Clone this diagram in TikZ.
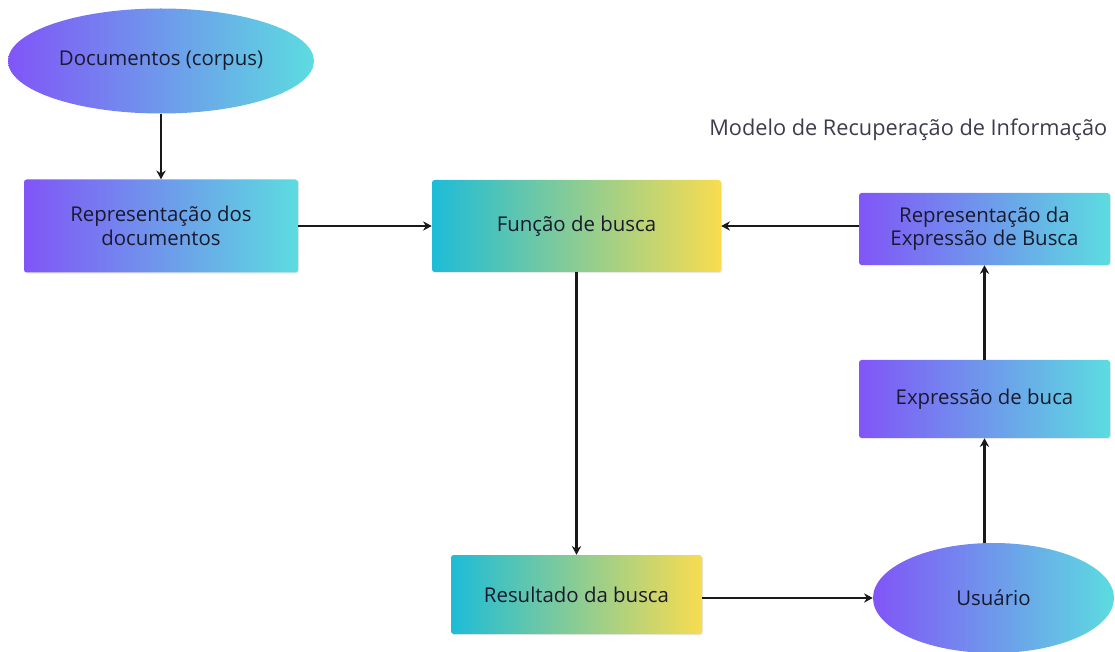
\documentclass[tikz,border=0pt]{standalone}
\usepackage{fontspec}
\setmainfont{Open Sans}
\usetikzlibrary{shapes.geometric,arrows.meta,shadows}
\definecolor{cpurple}{HTML}{8155F7}
\definecolor{ccyan}{HTML}{5CDCE0}
\definecolor{ctealL}{HTML}{1DBCD8}
\definecolor{cyell}{HTML}{F8DC50}
\definecolor{ctext}{HTML}{1A1A2E}
\tikzset{
  txt/.style={text=ctext, font=\fontsize{15.3}{17.5}\selectfont},
  pc/.style={txt, left color=cpurple, right color=ccyan, draw=none, rounded corners=2pt,
    align=center, inner sep=0pt,
    drop shadow={opacity=0.18, shadow xshift=0.8pt, shadow yshift=-0.8pt}},
  ty/.style={txt, left color=ctealL, right color=cyell, draw=none, rounded corners=2pt,
    align=center, inner sep=0pt,
    drop shadow={opacity=0.18, shadow xshift=0.8pt, shadow yshift=-0.8pt}},
  ell/.style={txt, ellipse, left color=cpurple, right color=ccyan, draw=none, inner sep=0pt},
  conn/.style={line width=2pt, -{Stealth[length=6.5pt,width=7pt]}, black!90}
}
\begin{document}
\begin{tikzpicture}[x=0.75pt,y=-0.75pt]
\useasboundingbox (0,0) rectangle (1115,652);
% nodes
\node[ell, minimum width=306*0.75pt, minimum height=105*0.75pt] (docs) at (161,61) {Documentos (corpus)};
\node[pc, minimum width=274*0.75pt, minimum height=93*0.75pt] (repdoc) at (161,226) {Representação dos\\documentos};
\node[ty, minimum width=289*0.75pt, minimum height=92*0.75pt] (func) at (576.5,226) {Função de busca};
\node[pc, minimum width=251*0.75pt, minimum height=72*0.75pt] (repexp) at (984.5,229) {Representação da\\Expressão de Busca};
\node[pc, minimum width=251*0.75pt, minimum height=78*0.75pt] (exp) at (984.5,399) {Expressão de buca};
\node[ty, minimum width=251*0.75pt, minimum height=79*0.75pt] (res) at (576.5,594.5) {Resultado da busca};
\node[ell, minimum width=241*0.75pt, minimum height=110*0.75pt] (user) at (993.5,598) {Usuário};
\node[anchor=east, text=ctext!85, font=\fontsize{16.3}{19}\selectfont] (title) at (1112,130) {Modelo de Recuperação de Informação};
% connectors
\draw[conn] (docs.south) -- (repdoc.north);
\draw[conn] (repdoc.east) -- (func.west);
\draw[conn] (repexp.west |- func.east) -- (func.east);
\draw[conn] (func.south) -- (res.north);
\draw[conn] (res.east |- user.west) -- (user.west);
\draw[conn] (user.north -| exp.south) -- (exp.south);
\draw[conn] (exp.north) -- (repexp.south);
\end{tikzpicture}
\end{document}
